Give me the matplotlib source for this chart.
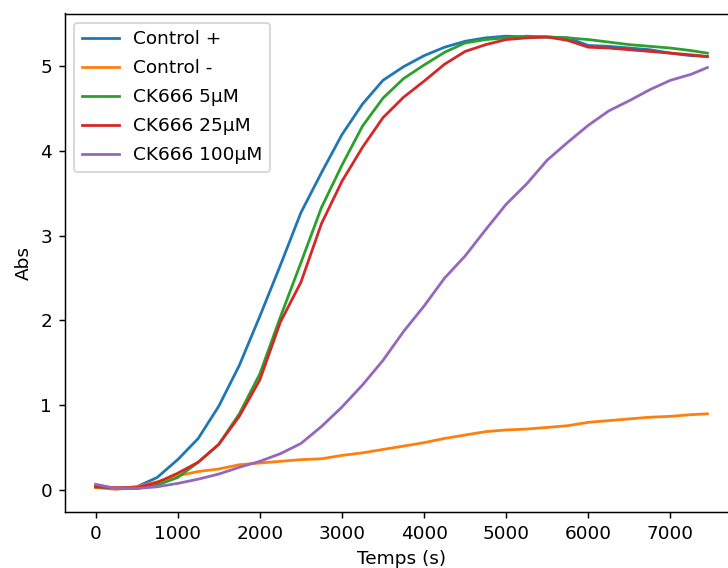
import matplotlib
matplotlib.use("Agg")
import matplotlib.pyplot as plt

# temps (s)
temps = [0, 250, 500, 750, 1000, 1250, 1500, 1750, 2000, 2250, 2500, 2750,
         3000, 3250, 3500, 3750, 4000, 4250, 4500, 4750, 5000, 5250, 5500,
         5750, 6000, 6250, 6500, 6750, 7000, 7250, 7450]

control_plus = [0.05, 0.02, 0.04, 0.15, 0.36, 0.61, 0.99, 1.47, 2.05, 2.65, 3.27,
                3.74, 4.19, 4.55, 4.83, 4.99, 5.12, 5.22, 5.29, 5.33, 5.35, 5.34,
                5.34, 5.33, 5.24, 5.23, 5.21, 5.19, 5.15, 5.12, 5.11]
control_minus = [0.03, 0.01, 0.04, 0.10, 0.17, 0.22, 0.25, 0.30, 0.32, 0.34, 0.36,
                 0.37, 0.41, 0.44, 0.48, 0.52, 0.56, 0.61, 0.65, 0.69, 0.71, 0.72,
                 0.74, 0.76, 0.80, 0.82, 0.84, 0.86, 0.87, 0.89, 0.90]
ck666_5 = [0.04, 0.02, 0.02, 0.06, 0.15, 0.33, 0.54, 0.90, 1.37, 2.04, 2.68,
           3.33, 3.83, 4.29, 4.62, 4.85, 5.01, 5.16, 5.27, 5.31, 5.33, 5.35,
           5.34, 5.33, 5.31, 5.28, 5.25, 5.23, 5.21, 5.18, 5.15]
ck666_25 = [0.04, 0.03, 0.03, 0.09, 0.20, 0.33, 0.54, 0.87, 1.30, 1.98, 2.45,
            3.14, 3.64, 4.04, 4.39, 4.63, 4.82, 5.02, 5.17, 5.25, 5.31, 5.33,
            5.34, 5.30, 5.22, 5.21, 5.19, 5.17, 5.15, 5.13, 5.11]
ck666_100 = [0.07, 0.02, 0.02, 0.04, 0.08, 0.13, 0.19, 0.27, 0.34, 0.43, 0.55,
             0.75, 0.98, 1.24, 1.53, 1.87, 2.17, 2.50, 2.76, 3.07, 3.37, 3.61,
             3.89, 4.10, 4.30, 4.47, 4.59, 4.72, 4.83, 4.90, 4.98]

dpi = 133
fig = plt.figure(figsize=(728 / dpi, 568 / dpi), dpi=dpi)
ax = fig.add_axes([65 / 728, 56 / 568, 673 / 728, 498.5 / 568])

ax.plot(temps, control_plus, label="Control +")
ax.plot(temps, control_minus, label="Control -")
ax.plot(temps, ck666_5, label="CK666 5µM")
ax.plot(temps, ck666_25, label="CK666 25µM")
ax.plot(temps, ck666_100, label="CK666 100µM")

ax.set_xlabel("Temps (s)")
ax.set_ylabel("Abs")
ax.legend(loc="upper left", labelspacing=0.6)

fig.savefig("out.png", dpi=dpi)
